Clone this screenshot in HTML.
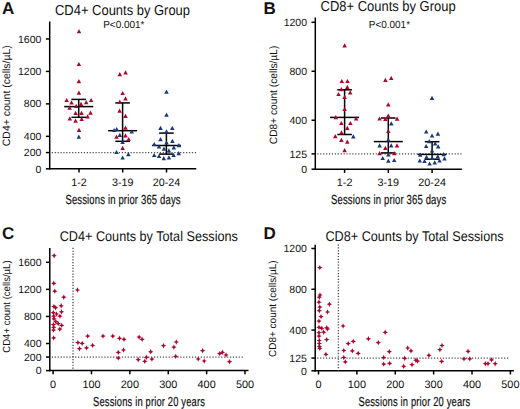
<!DOCTYPE html>
<html><head><meta charset="utf-8"><style>
html,body{margin:0;padding:0;background:#fff;}
svg{display:block;font-family:"Liberation Sans", sans-serif;text-rendering:geometricPrecision;}
</style></head><body>
<svg width="520" height="409" viewBox="0 0 520 409">
<g fill="#111">
<text x="2.0" y="13.6" font-size="17" font-weight="bold">A</text>
<text x="263.4" y="13.9" font-size="17" font-weight="bold">B</text>
<text x="2.0" y="238.7" font-size="17" font-weight="bold">C</text>
<text x="263.4" y="239.4" font-size="17" font-weight="bold">D</text>
<line x1="49.7" y1="21.5" x2="49.7" y2="169.5" stroke="#000" stroke-width="1.5"/>
<line x1="49.0" y1="168.8" x2="196.3" y2="168.8" stroke="#000" stroke-width="1.5"/>
<line x1="45.9" y1="168.8" x2="49.7" y2="168.8" stroke="#000" stroke-width="1.5"/>
<text x="41.4" y="172.5" font-size="10.5" text-anchor="end">0</text>
<line x1="45.9" y1="152.57" x2="49.7" y2="152.57" stroke="#000" stroke-width="1.5"/>
<text x="41.4" y="156.27" font-size="10.5" text-anchor="end">200</text>
<line x1="45.9" y1="136.34" x2="49.7" y2="136.34" stroke="#000" stroke-width="1.5"/>
<text x="41.4" y="140.04" font-size="10.5" text-anchor="end">400</text>
<line x1="45.9" y1="103.88" x2="49.7" y2="103.88" stroke="#000" stroke-width="1.5"/>
<text x="41.4" y="106.98" font-size="10.5" text-anchor="end">800</text>
<line x1="45.9" y1="71.42" x2="49.7" y2="71.42" stroke="#000" stroke-width="1.5"/>
<text x="41.4" y="75.12" font-size="10.5" text-anchor="end">1200</text>
<line x1="45.9" y1="38.96" x2="49.7" y2="38.96" stroke="#000" stroke-width="1.5"/>
<text x="41.4" y="42.66" font-size="10.5" text-anchor="end">1600</text>
<line x1="51.7" y1="152.57" x2="196.3" y2="152.57" stroke="#4a4a4a" stroke-width="1.35" stroke-dasharray="1.2 1.72"/>
<line x1="79.0" y1="168.8" x2="79.0" y2="172.5" stroke="#000" stroke-width="1.5"/>
<text x="79.0" y="186.2" font-size="10.8" text-anchor="middle">1-2</text>
<line x1="122.7" y1="168.8" x2="122.7" y2="172.5" stroke="#000" stroke-width="1.5"/>
<text x="122.7" y="186.2" font-size="10.8" text-anchor="middle">3-19</text>
<line x1="166.5" y1="168.8" x2="166.5" y2="172.5" stroke="#000" stroke-width="1.5"/>
<text x="166.5" y="186.2" font-size="10.8" text-anchor="middle">20-24</text>
<text transform="translate(65.4,204.1) scale(0.72,1)" font-size="13.2" textLength="160.00" lengthAdjust="spacing" stroke="#111" stroke-width="0.2">Sessions in prior 365 days</text>
<text transform="translate(9.9,146.2) rotate(-90)" font-size="10.6" textLength="101" lengthAdjust="spacingAndGlyphs">CD4+ count (cells/µL)</text>
<text x="55" y="14.5" font-size="14.4" textLength="135" lengthAdjust="spacingAndGlyphs">CD4+ Counts by Group</text>
<text transform="translate(103.2,27.8) scale(0.5)" font-size="20.6" textLength="82.4" lengthAdjust="spacingAndGlyphs">P&lt;0.001*</text>
<line x1="78.7" y1="99.4" x2="78.7" y2="117.3" stroke="#000" stroke-width="1.5"/>
<line x1="71.4" y1="99.4" x2="86.0" y2="99.4" stroke="#000" stroke-width="1.5"/>
<line x1="71.4" y1="117.3" x2="86.0" y2="117.3" stroke="#000" stroke-width="1.5"/>
<line x1="64.2" y1="106.6" x2="93.2" y2="106.6" stroke="#000" stroke-width="1.5"/>
<line x1="122.6" y1="102.9" x2="122.6" y2="141.3" stroke="#000" stroke-width="1.5"/>
<line x1="115.3" y1="102.9" x2="129.9" y2="102.9" stroke="#000" stroke-width="1.5"/>
<line x1="115.3" y1="141.3" x2="129.9" y2="141.3" stroke="#000" stroke-width="1.5"/>
<line x1="108.1" y1="130.7" x2="137.1" y2="130.7" stroke="#000" stroke-width="1.5"/>
<line x1="166.4" y1="133.1" x2="166.4" y2="154.1" stroke="#000" stroke-width="1.5"/>
<line x1="159.1" y1="133.1" x2="173.7" y2="133.1" stroke="#000" stroke-width="1.5"/>
<line x1="159.1" y1="154.1" x2="173.7" y2="154.1" stroke="#000" stroke-width="1.5"/>
<line x1="151.9" y1="145.5" x2="180.9" y2="145.5" stroke="#000" stroke-width="1.5"/>
<path d="M79.00 29.10L81.25 33.30L76.75 33.30Z" fill="#ae042c"/>
<path d="M78.90 61.90L81.15 66.10L76.65 66.10Z" fill="#ae042c"/>
<path d="M78.90 79.10L81.15 83.30L76.65 83.30Z" fill="#ae042c"/>
<path d="M78.90 90.60L81.15 94.80L76.65 94.80Z" fill="#ae042c"/>
<path d="M66.60 97.90L68.85 102.10L64.35 102.10Z" fill="#ae042c"/>
<path d="M71.50 100.30L73.75 104.50L69.25 104.50Z" fill="#ae042c"/>
<path d="M81.00 101.80L83.25 106.00L78.75 106.00Z" fill="#ae042c"/>
<path d="M86.20 100.00L88.45 104.20L83.95 104.20Z" fill="#ae042c"/>
<path d="M91.10 97.90L93.35 102.10L88.85 102.10Z" fill="#ae042c"/>
<path d="M76.20 103.80L78.45 108.00L73.95 108.00Z" fill="#ae042c"/>
<path d="M69.60 105.60L71.85 109.80L67.35 109.80Z" fill="#ae042c"/>
<path d="M75.60 110.70L77.85 114.90L73.35 114.90Z" fill="#ae042c"/>
<path d="M81.50 110.70L83.75 114.90L79.25 114.90Z" fill="#ae042c"/>
<path d="M90.50 110.50L92.75 114.70L88.25 114.70Z" fill="#ae042c"/>
<path d="M87.60 114.20L89.85 118.40L85.35 118.40Z" fill="#ae042c"/>
<path d="M69.80 116.20L72.05 120.40L67.55 120.40Z" fill="#ae042c"/>
<path d="M75.60 118.50L77.85 122.70L73.35 122.70Z" fill="#ae042c"/>
<path d="M81.70 116.90L83.95 121.10L79.45 121.10Z" fill="#ae042c"/>
<path d="M79.00 127.70L81.25 131.90L76.75 131.90Z" fill="#ae042c"/>
<path d="M78.80 134.50L81.05 138.70L76.55 138.70Z" fill="#183878"/>
<path d="M119.80 72.00L122.05 76.20L117.55 76.20Z" fill="#ae042c"/>
<path d="M125.60 70.20L127.85 74.40L123.35 74.40Z" fill="#ae042c"/>
<path d="M122.60 90.90L124.85 95.10L120.35 95.10Z" fill="#ae042c"/>
<path d="M125.50 96.30L127.75 100.50L123.25 100.50Z" fill="#ae042c"/>
<path d="M119.80 99.50L122.05 103.70L117.55 103.70Z" fill="#ae042c"/>
<path d="M119.60 108.50L121.85 112.70L117.35 112.70Z" fill="#ae042c"/>
<path d="M125.50 113.80L127.75 118.00L123.25 118.00Z" fill="#ae042c"/>
<path d="M125.50 125.50L127.75 129.70L123.25 129.70Z" fill="#ae042c"/>
<path d="M114.10 127.90L116.35 132.10L111.85 132.10Z" fill="#183878"/>
<path d="M116.70 126.90L118.95 131.10L114.45 131.10Z" fill="#183878"/>
<path d="M131.70 129.40L133.95 133.60L129.45 133.60Z" fill="#183878"/>
<path d="M119.80 132.70L122.05 136.90L117.55 136.90Z" fill="#183878"/>
<path d="M116.50 134.50L118.75 138.70L114.25 138.70Z" fill="#ae042c"/>
<path d="M125.50 133.20L127.75 137.40L123.25 137.40Z" fill="#ae042c"/>
<path d="M128.60 136.90L130.85 141.10L126.35 141.10Z" fill="#ae042c"/>
<path d="M122.60 139.90L124.85 144.10L120.35 144.10Z" fill="#183878"/>
<path d="M122.60 145.80L124.85 150.00L120.35 150.00Z" fill="#ae042c"/>
<path d="M116.50 149.90L118.75 154.10L114.25 154.10Z" fill="#183878"/>
<path d="M128.40 152.10L130.65 156.30L126.15 156.30Z" fill="#183878"/>
<path d="M122.60 155.40L124.85 159.60L120.35 159.60Z" fill="#183878"/>
<path d="M166.50 89.50L168.75 93.70L164.25 93.70Z" fill="#183878"/>
<path d="M166.50 112.60L168.75 116.80L164.25 116.80Z" fill="#183878"/>
<path d="M160.50 125.80L162.75 130.00L158.25 130.00Z" fill="#183878"/>
<path d="M172.30 125.80L174.55 130.00L170.05 130.00Z" fill="#183878"/>
<path d="M166.50 129.20L168.75 133.40L164.25 133.40Z" fill="#183878"/>
<path d="M160.50 137.10L162.75 141.30L158.25 141.30Z" fill="#183878"/>
<path d="M172.40 138.70L174.65 142.90L170.15 142.90Z" fill="#183878"/>
<path d="M166.50 140.40L168.75 144.60L164.25 144.60Z" fill="#183878"/>
<path d="M154.30 141.90L156.55 146.10L152.05 146.10Z" fill="#183878"/>
<path d="M159.00 144.20L161.25 148.40L156.75 148.40Z" fill="#183878"/>
<path d="M178.90 143.10L181.15 147.30L176.65 147.30Z" fill="#183878"/>
<path d="M173.80 145.30L176.05 149.50L171.55 149.50Z" fill="#183878"/>
<path d="M164.00 146.60L166.25 150.80L161.75 150.80Z" fill="#183878"/>
<path d="M168.90 148.20L171.15 152.40L166.65 152.40Z" fill="#183878"/>
<path d="M178.70 151.10L180.95 155.30L176.45 155.30Z" fill="#183878"/>
<path d="M154.20 152.90L156.45 157.10L151.95 157.10Z" fill="#183878"/>
<path d="M159.00 153.90L161.25 158.10L156.75 158.10Z" fill="#183878"/>
<path d="M173.60 152.90L175.85 157.10L171.35 157.10Z" fill="#183878"/>
<path d="M163.80 156.10L166.05 160.30L161.55 160.30Z" fill="#183878"/>
<path d="M168.90 155.30L171.15 159.50L166.65 159.50Z" fill="#183878"/>
<line x1="315.3" y1="17.5" x2="315.3" y2="169.9" stroke="#000" stroke-width="1.5"/>
<line x1="314.6" y1="169.2" x2="461.9" y2="169.2" stroke="#000" stroke-width="1.5"/>
<line x1="311.5" y1="169.2" x2="315.3" y2="169.2" stroke="#000" stroke-width="1.5"/>
<text x="307.0" y="172.9" font-size="10.5" text-anchor="end">0</text>
<line x1="311.5" y1="153.9" x2="315.3" y2="153.9" stroke="#000" stroke-width="1.5"/>
<text x="307.0" y="157.6" font-size="10.5" text-anchor="end">125</text>
<line x1="311.5" y1="120.23" x2="315.3" y2="120.23" stroke="#000" stroke-width="1.5"/>
<text x="307.0" y="123.93" font-size="10.5" text-anchor="end">400</text>
<line x1="311.5" y1="71.26" x2="315.3" y2="71.26" stroke="#000" stroke-width="1.5"/>
<text x="307.0" y="74.96" font-size="10.5" text-anchor="end">800</text>
<line x1="311.5" y1="22.3" x2="315.3" y2="22.3" stroke="#000" stroke-width="1.5"/>
<text x="307.0" y="26" font-size="10.5" text-anchor="end">1200</text>
<line x1="317.3" y1="153.9" x2="461.9" y2="153.9" stroke="#4a4a4a" stroke-width="1.35" stroke-dasharray="1.2 1.72"/>
<line x1="344.6" y1="169.2" x2="344.6" y2="172.9" stroke="#000" stroke-width="1.5"/>
<text x="344.6" y="186.2" font-size="10.8" text-anchor="middle">1-2</text>
<line x1="388.3" y1="169.2" x2="388.3" y2="172.9" stroke="#000" stroke-width="1.5"/>
<text x="388.3" y="186.2" font-size="10.8" text-anchor="middle">3-19</text>
<line x1="432.1" y1="169.2" x2="432.1" y2="172.9" stroke="#000" stroke-width="1.5"/>
<text x="432.1" y="186.2" font-size="10.8" text-anchor="middle">20-24</text>
<text transform="translate(331.0,204.1) scale(0.72,1)" font-size="13.2" textLength="160.00" lengthAdjust="spacing" stroke="#111" stroke-width="0.2">Sessions in prior 365 days</text>
<text transform="translate(276.6,144.2) rotate(-90)" font-size="10.6" textLength="98.5" lengthAdjust="spacingAndGlyphs">CD8+ count (cells/µL)</text>
<text x="320.6" y="10.5" font-size="14.4" textLength="135" lengthAdjust="spacingAndGlyphs">CD8+ Counts by Group</text>
<text transform="translate(368.8,27.8) scale(0.5)" font-size="20.6" textLength="82.4" lengthAdjust="spacingAndGlyphs">P&lt;0.001*</text>
<line x1="344.6" y1="89.8" x2="344.6" y2="134.5" stroke="#000" stroke-width="1.5"/>
<line x1="337.3" y1="89.8" x2="351.9" y2="89.8" stroke="#000" stroke-width="1.5"/>
<line x1="337.3" y1="134.5" x2="351.9" y2="134.5" stroke="#000" stroke-width="1.5"/>
<line x1="330.1" y1="117.4" x2="359.1" y2="117.4" stroke="#000" stroke-width="1.5"/>
<line x1="388.3" y1="118" x2="388.3" y2="152.9" stroke="#000" stroke-width="1.5"/>
<line x1="381.0" y1="118" x2="395.6" y2="118" stroke="#000" stroke-width="1.5"/>
<line x1="381.0" y1="152.9" x2="395.6" y2="152.9" stroke="#000" stroke-width="1.5"/>
<line x1="373.8" y1="141.6" x2="402.8" y2="141.6" stroke="#000" stroke-width="1.5"/>
<line x1="432.1" y1="141.7" x2="432.1" y2="159.2" stroke="#000" stroke-width="1.5"/>
<line x1="424.8" y1="141.7" x2="439.4" y2="141.7" stroke="#000" stroke-width="1.5"/>
<line x1="424.8" y1="159.2" x2="439.4" y2="159.2" stroke="#000" stroke-width="1.5"/>
<line x1="417.6" y1="154.4" x2="446.6" y2="154.4" stroke="#000" stroke-width="1.5"/>
<path d="M344.60 43.20L346.85 47.40L342.35 47.40Z" fill="#ae042c"/>
<path d="M341.80 78.90L344.05 83.10L339.55 83.10Z" fill="#ae042c"/>
<path d="M347.50 78.90L349.75 83.10L345.25 83.10Z" fill="#ae042c"/>
<path d="M347.30 84.70L349.55 88.90L345.05 88.90Z" fill="#ae042c"/>
<path d="M341.40 87.00L343.65 91.20L339.15 91.20Z" fill="#ae042c"/>
<path d="M338.50 91.90L340.75 96.10L336.25 96.10Z" fill="#ae042c"/>
<path d="M350.20 90.20L352.45 94.40L347.95 94.40Z" fill="#ae042c"/>
<path d="M344.60 94.80L346.85 99.00L342.35 99.00Z" fill="#ae042c"/>
<path d="M344.60 106.90L346.85 111.10L342.35 111.10Z" fill="#ae042c"/>
<path d="M335.80 115.00L338.05 119.20L333.55 119.20Z" fill="#ae042c"/>
<path d="M356.10 116.30L358.35 120.50L353.85 120.50Z" fill="#ae042c"/>
<path d="M341.40 120.90L343.65 125.10L339.15 125.10Z" fill="#ae042c"/>
<path d="M350.40 120.90L352.65 125.10L348.15 125.10Z" fill="#ae042c"/>
<path d="M347.30 125.70L349.55 129.90L345.05 129.90Z" fill="#ae042c"/>
<path d="M341.50 130.30L343.75 134.50L339.25 134.50Z" fill="#ae042c"/>
<path d="M335.30 134.00L337.55 138.20L333.05 138.20Z" fill="#ae042c"/>
<path d="M353.30 134.30L355.55 138.50L351.05 138.50Z" fill="#183878"/>
<path d="M341.40 137.80L343.65 142.00L339.15 142.00Z" fill="#ae042c"/>
<path d="M347.30 139.50L349.55 143.70L345.05 143.70Z" fill="#ae042c"/>
<path d="M344.60 148.10L346.85 152.30L342.35 152.30Z" fill="#ae042c"/>
<path d="M385.40 77.80L387.65 82.00L383.15 82.00Z" fill="#ae042c"/>
<path d="M391.20 75.80L393.45 80.00L388.95 80.00Z" fill="#ae042c"/>
<path d="M388.30 102.20L390.55 106.40L386.05 106.40Z" fill="#ae042c"/>
<path d="M388.30 113.40L390.55 117.60L386.05 117.60Z" fill="#ae042c"/>
<path d="M379.50 116.40L381.75 120.60L377.25 120.60Z" fill="#ae042c"/>
<path d="M385.40 116.90L387.65 121.10L383.15 121.10Z" fill="#ae042c"/>
<path d="M397.10 116.60L399.35 120.80L394.85 120.80Z" fill="#ae042c"/>
<path d="M391.30 121.30L393.55 125.50L389.05 125.50Z" fill="#183878"/>
<path d="M388.30 128.90L390.55 133.10L386.05 133.10Z" fill="#ae042c"/>
<path d="M388.30 137.60L390.55 141.80L386.05 141.80Z" fill="#183878"/>
<path d="M379.60 143.20L381.85 147.40L377.35 147.40Z" fill="#183878"/>
<path d="M391.20 143.20L393.45 147.40L388.95 147.40Z" fill="#183878"/>
<path d="M397.00 143.20L399.25 147.40L394.75 147.40Z" fill="#ae042c"/>
<path d="M385.40 145.80L387.65 150.00L383.15 150.00Z" fill="#ae042c"/>
<path d="M379.60 151.10L381.85 155.30L377.35 155.30Z" fill="#ae042c"/>
<path d="M394.20 151.10L396.45 155.30L391.95 155.30Z" fill="#ae042c"/>
<path d="M388.40 152.30L390.65 156.50L386.15 156.50Z" fill="#183878"/>
<path d="M382.70 155.90L384.95 160.10L380.45 160.10Z" fill="#183878"/>
<path d="M388.30 158.50L390.55 162.70L386.05 162.70Z" fill="#183878"/>
<path d="M394.20 157.90L396.45 162.10L391.95 162.10Z" fill="#183878"/>
<path d="M432.00 95.80L434.25 100.00L429.75 100.00Z" fill="#183878"/>
<path d="M426.20 129.40L428.45 133.60L423.95 133.60Z" fill="#183878"/>
<path d="M437.90 131.60L440.15 135.80L435.65 135.80Z" fill="#183878"/>
<path d="M432.00 133.40L434.25 137.60L429.75 137.60Z" fill="#183878"/>
<path d="M429.30 139.10L431.55 143.30L427.05 143.30Z" fill="#183878"/>
<path d="M435.20 141.30L437.45 145.50L432.95 145.50Z" fill="#183878"/>
<path d="M426.10 143.90L428.35 148.10L423.85 148.10Z" fill="#183878"/>
<path d="M438.20 144.20L440.45 148.40L435.95 148.40Z" fill="#183878"/>
<path d="M432.10 148.40L434.35 152.60L429.85 152.60Z" fill="#183878"/>
<path d="M420.20 152.60L422.45 156.80L417.95 156.80Z" fill="#183878"/>
<path d="M443.70 152.00L445.95 156.20L441.45 156.20Z" fill="#183878"/>
<path d="M426.50 154.70L428.75 158.90L424.25 158.90Z" fill="#183878"/>
<path d="M432.20 155.70L434.45 159.90L429.95 159.90Z" fill="#183878"/>
<path d="M437.80 154.30L440.05 158.50L435.55 158.50Z" fill="#183878"/>
<path d="M444.50 156.30L446.75 160.50L442.25 160.50Z" fill="#183878"/>
<path d="M419.80 158.40L422.05 162.60L417.55 162.60Z" fill="#183878"/>
<path d="M424.50 158.90L426.75 163.10L422.25 163.10Z" fill="#183878"/>
<path d="M439.50 158.40L441.75 162.60L437.25 162.60Z" fill="#183878"/>
<path d="M429.60 161.40L431.85 165.60L427.35 165.60Z" fill="#183878"/>
<path d="M434.70 160.20L436.95 164.40L432.45 164.40Z" fill="#183878"/>
<line x1="49.8" y1="248.1" x2="49.8" y2="371.3" stroke="#000" stroke-width="1.5"/>
<line x1="49.1" y1="370.6" x2="248.5" y2="370.6" stroke="#000" stroke-width="1.5"/>
<line x1="46.0" y1="370.6" x2="49.8" y2="370.6" stroke="#000" stroke-width="1.5"/>
<text x="41.5" y="374.3" font-size="10.5" text-anchor="end">0</text>
<line x1="46.0" y1="357.06" x2="49.8" y2="357.06" stroke="#000" stroke-width="1.5"/>
<text x="41.5" y="360.76" font-size="10.5" text-anchor="end">200</text>
<line x1="46.0" y1="343.52" x2="49.8" y2="343.52" stroke="#000" stroke-width="1.5"/>
<text x="41.5" y="347.22" font-size="10.5" text-anchor="end">400</text>
<line x1="46.0" y1="316.45" x2="49.8" y2="316.45" stroke="#000" stroke-width="1.5"/>
<text x="41.5" y="320.15" font-size="10.5" text-anchor="end">800</text>
<line x1="46.0" y1="289.37" x2="49.8" y2="289.37" stroke="#000" stroke-width="1.5"/>
<text x="41.5" y="293.07" font-size="10.5" text-anchor="end">1200</text>
<line x1="46.0" y1="262.3" x2="49.8" y2="262.3" stroke="#000" stroke-width="1.5"/>
<text x="41.5" y="266" font-size="10.5" text-anchor="end">1600</text>
<line x1="53.1" y1="370.6" x2="53.1" y2="374.3" stroke="#000" stroke-width="1.5"/>
<text x="53.1" y="388.1" font-size="10.9" text-anchor="middle">0</text>
<line x1="91.48" y1="370.6" x2="91.48" y2="374.3" stroke="#000" stroke-width="1.5"/>
<text x="91.48" y="388.1" font-size="10.9" text-anchor="middle">100</text>
<line x1="129.86" y1="370.6" x2="129.86" y2="374.3" stroke="#000" stroke-width="1.5"/>
<text x="129.86" y="388.1" font-size="10.9" text-anchor="middle">200</text>
<line x1="168.24" y1="370.6" x2="168.24" y2="374.3" stroke="#000" stroke-width="1.5"/>
<text x="168.24" y="388.1" font-size="10.9" text-anchor="middle">300</text>
<line x1="206.62" y1="370.6" x2="206.62" y2="374.3" stroke="#000" stroke-width="1.5"/>
<text x="206.62" y="388.1" font-size="10.9" text-anchor="middle">400</text>
<line x1="245" y1="370.6" x2="245" y2="374.3" stroke="#000" stroke-width="1.5"/>
<text x="245" y="388.1" font-size="10.9" text-anchor="middle">500</text>
<line x1="51.8" y1="357.06" x2="244.5" y2="357.06" stroke="#4a4a4a" stroke-width="1.35" stroke-dasharray="1.2 1.72"/>
<line x1="73.0" y1="247.8" x2="73.0" y2="370.6" stroke="#4a4a4a" stroke-width="1.35" stroke-dasharray="1.2 1.65"/>
<text transform="translate(93.1,405.6) scale(0.72,1)" font-size="13.0" textLength="155.28" lengthAdjust="spacing" stroke="#111" stroke-width="0.2">Sessions in prior 20 years</text>
<text transform="translate(9.5,352.7) rotate(-90)" font-size="10.2" textLength="92.3" lengthAdjust="spacingAndGlyphs">CD4+ count (cells/µL)</text>
<text x="59.7" y="240.7" font-size="14.1" textLength="178.2" lengthAdjust="spacingAndGlyphs">CD4+ Counts by Total Sessions</text>
<path d="M54.10 253.00L54.95 254.85L56.80 255.70L54.95 256.55L54.10 258.40L53.25 256.55L51.40 255.70L53.25 254.85Z" fill="#ae042c"/>
<path d="M53.80 280.60L54.65 282.45L56.50 283.30L54.65 284.15L53.80 286.00L52.95 284.15L51.10 283.30L52.95 282.45Z" fill="#ae042c"/>
<path d="M54.80 288.50L55.65 290.35L57.50 291.20L55.65 292.05L54.80 293.90L53.95 292.05L52.10 291.20L53.95 290.35Z" fill="#ae042c"/>
<path d="M77.50 287.30L78.35 289.15L80.20 290.00L78.35 290.85L77.50 292.70L76.65 290.85L74.80 290.00L76.65 289.15Z" fill="#ae042c"/>
<path d="M63.80 294.50L64.65 296.35L66.50 297.20L64.65 298.05L63.80 299.90L62.95 298.05L61.10 297.20L62.95 296.35Z" fill="#ae042c"/>
<path d="M53.90 303.80L54.75 305.65L56.60 306.50L54.75 307.35L53.90 309.20L53.05 307.35L51.20 306.50L53.05 305.65Z" fill="#ae042c"/>
<path d="M55.60 305.00L56.45 306.85L58.30 307.70L56.45 308.55L55.60 310.40L54.75 308.55L52.90 307.70L54.75 306.85Z" fill="#ae042c"/>
<path d="M61.20 303.10L62.05 304.95L63.90 305.80L62.05 306.65L61.20 308.50L60.35 306.65L58.50 305.80L60.35 304.95Z" fill="#ae042c"/>
<path d="M53.30 310.00L54.15 311.85L56.00 312.70L54.15 313.55L53.30 315.40L52.45 313.55L50.60 312.70L52.45 311.85Z" fill="#ae042c"/>
<path d="M56.50 311.30L57.35 313.15L59.20 314.00L57.35 314.85L56.50 316.70L55.65 314.85L53.80 314.00L55.65 313.15Z" fill="#ae042c"/>
<path d="M61.50 309.10L62.35 310.95L64.20 311.80L62.35 312.65L61.50 314.50L60.65 312.65L58.80 311.80L60.65 310.95Z" fill="#ae042c"/>
<path d="M53.70 313.50L54.55 315.35L56.40 316.20L54.55 317.05L53.70 318.90L52.85 317.05L51.00 316.20L52.85 315.35Z" fill="#ae042c"/>
<path d="M59.90 313.50L60.75 315.35L62.60 316.20L60.75 317.05L59.90 318.90L59.05 317.05L57.20 316.20L59.05 315.35Z" fill="#ae042c"/>
<path d="M54.00 316.10L54.85 317.95L56.70 318.80L54.85 319.65L54.00 321.50L53.15 319.65L51.30 318.80L53.15 317.95Z" fill="#ae042c"/>
<path d="M55.80 318.90L56.65 320.75L58.50 321.60L56.65 322.45L55.80 324.30L54.95 322.45L53.10 321.60L54.95 320.75Z" fill="#ae042c"/>
<path d="M58.20 320.90L59.05 322.75L60.90 323.60L59.05 324.45L58.20 326.30L57.35 324.45L55.50 323.60L57.35 322.75Z" fill="#ae042c"/>
<path d="M53.50 321.90L54.35 323.75L56.20 324.60L54.35 325.45L53.50 327.30L52.65 325.45L50.80 324.60L52.65 323.75Z" fill="#ae042c"/>
<path d="M61.70 322.70L62.55 324.55L64.40 325.40L62.55 326.25L61.70 328.10L60.85 326.25L59.00 325.40L60.85 324.55Z" fill="#ae042c"/>
<path d="M53.70 324.60L54.55 326.45L56.40 327.30L54.55 328.15L53.70 330.00L52.85 328.15L51.00 327.30L52.85 326.45Z" fill="#ae042c"/>
<path d="M59.80 326.40L60.65 328.25L62.50 329.10L60.65 329.95L59.80 331.80L58.95 329.95L57.10 329.10L58.95 328.25Z" fill="#ae042c"/>
<path d="M53.50 327.40L54.35 329.25L56.20 330.10L54.35 330.95L53.50 332.80L52.65 330.95L50.80 330.10L52.65 329.25Z" fill="#ae042c"/>
<path d="M53.70 335.20L54.55 337.05L56.40 337.90L54.55 338.75L53.70 340.60L52.85 338.75L51.00 337.90L52.85 337.05Z" fill="#ae042c"/>
<path d="M77.90 339.90L78.75 341.75L80.60 342.60L78.75 343.45L77.90 345.30L77.05 343.45L75.20 342.60L77.05 341.75Z" fill="#ae042c"/>
<path d="M82.20 340.70L83.05 342.55L84.90 343.40L83.05 344.25L82.20 346.10L81.35 344.25L79.50 343.40L81.35 342.55Z" fill="#ae042c"/>
<path d="M79.50 346.00L80.35 347.85L82.20 348.70L80.35 349.55L79.50 351.40L78.65 349.55L76.80 348.70L78.65 347.85Z" fill="#ae042c"/>
<path d="M87.70 333.40L88.55 335.25L90.40 336.10L88.55 336.95L87.70 338.80L86.85 336.95L85.00 336.10L86.85 335.25Z" fill="#ae042c"/>
<path d="M86.50 345.20L87.35 347.05L89.20 347.90L87.35 348.75L86.50 350.60L85.65 348.75L83.80 347.90L85.65 347.05Z" fill="#ae042c"/>
<path d="M92.60 342.70L93.45 344.55L95.30 345.40L93.45 346.25L92.60 348.10L91.75 346.25L89.90 345.40L91.75 344.55Z" fill="#ae042c"/>
<path d="M103.00 333.40L103.85 335.25L105.70 336.10L103.85 336.95L103.00 338.80L102.15 336.95L100.30 336.10L102.15 335.25Z" fill="#ae042c"/>
<path d="M112.80 333.40L113.65 335.25L115.50 336.10L113.65 336.95L112.80 338.80L111.95 336.95L110.10 336.10L111.95 335.25Z" fill="#ae042c"/>
<path d="M119.50 335.60L120.35 337.45L122.20 338.30L120.35 339.15L119.50 341.00L118.65 339.15L116.80 338.30L118.65 337.45Z" fill="#ae042c"/>
<path d="M124.00 336.60L124.85 338.45L126.70 339.30L124.85 340.15L124.00 342.00L123.15 340.15L121.30 339.30L123.15 338.45Z" fill="#ae042c"/>
<path d="M118.30 349.70L119.15 351.55L121.00 352.40L119.15 353.25L118.30 355.10L117.45 353.25L115.60 352.40L117.45 351.55Z" fill="#ae042c"/>
<path d="M123.50 347.30L124.35 349.15L126.20 350.00L124.35 350.85L123.50 352.70L122.65 350.85L120.80 350.00L122.65 349.15Z" fill="#ae042c"/>
<path d="M118.30 355.40L119.15 357.25L121.00 358.10L119.15 358.95L118.30 360.80L117.45 358.95L115.60 358.10L117.45 357.25Z" fill="#ae042c"/>
<path d="M139.10 334.40L139.95 336.25L141.80 337.10L139.95 337.95L139.10 339.80L138.25 337.95L136.40 337.10L138.25 336.25Z" fill="#ae042c"/>
<path d="M142.10 336.60L142.95 338.45L144.80 339.30L142.95 340.15L142.10 342.00L141.25 340.15L139.40 339.30L141.25 338.45Z" fill="#ae042c"/>
<path d="M150.70 349.10L151.55 350.95L153.40 351.80L151.55 352.65L150.70 354.50L149.85 352.65L148.00 351.80L149.85 350.95Z" fill="#ae042c"/>
<path d="M146.40 354.60L147.25 356.45L149.10 357.30L147.25 358.15L146.40 360.00L145.55 358.15L143.70 357.30L145.55 356.45Z" fill="#ae042c"/>
<path d="M138.20 357.00L139.05 358.85L140.90 359.70L139.05 360.55L138.20 362.40L137.35 360.55L135.50 359.70L137.35 358.85Z" fill="#ae042c"/>
<path d="M144.80 358.60L145.65 360.45L147.50 361.30L145.65 362.15L144.80 364.00L143.95 362.15L142.10 361.30L143.95 360.45Z" fill="#ae042c"/>
<path d="M151.90 356.40L152.75 358.25L154.60 359.10L152.75 359.95L151.90 361.80L151.05 359.95L149.20 359.10L151.05 358.25Z" fill="#ae042c"/>
<path d="M163.50 343.00L164.35 344.85L166.20 345.70L164.35 346.55L163.50 348.40L162.65 346.55L160.80 345.70L162.65 344.85Z" fill="#ae042c"/>
<path d="M176.30 339.30L177.15 341.15L179.00 342.00L177.15 342.85L176.30 344.70L175.45 342.85L173.60 342.00L175.45 341.15Z" fill="#ae042c"/>
<path d="M173.90 344.40L174.75 346.25L176.60 347.10L174.75 347.95L173.90 349.80L173.05 347.95L171.20 347.10L173.05 346.25Z" fill="#ae042c"/>
<path d="M175.70 353.70L176.55 355.55L178.40 356.40L176.55 357.25L175.70 359.10L174.85 357.25L173.00 356.40L174.85 355.55Z" fill="#ae042c"/>
<path d="M202.60 348.00L203.45 349.85L205.30 350.70L203.45 351.55L202.60 353.40L201.75 351.55L199.90 350.70L201.75 349.85Z" fill="#ae042c"/>
<path d="M198.20 356.30L199.05 358.15L200.90 359.00L199.05 359.85L198.20 361.70L197.35 359.85L195.50 359.00L197.35 358.15Z" fill="#ae042c"/>
<path d="M204.20 358.30L205.05 360.15L206.90 361.00L205.05 361.85L204.20 363.70L203.35 361.85L201.50 361.00L203.35 360.15Z" fill="#ae042c"/>
<path d="M219.70 350.90L220.55 352.75L222.40 353.60L220.55 354.45L219.70 356.30L218.85 354.45L217.00 353.60L218.85 352.75Z" fill="#ae042c"/>
<path d="M222.40 349.60L223.25 351.45L225.10 352.30L223.25 353.15L222.40 355.00L221.55 353.15L219.70 352.30L221.55 351.45Z" fill="#ae042c"/>
<path d="M226.00 352.30L226.85 354.15L228.70 355.00L226.85 355.85L226.00 357.70L225.15 355.85L223.30 355.00L225.15 354.15Z" fill="#ae042c"/>
<path d="M229.50 359.00L230.35 360.85L232.20 361.70L230.35 362.55L229.50 364.40L228.65 362.55L226.80 361.70L228.65 360.85Z" fill="#ae042c"/>
<line x1="315.2" y1="244.8" x2="315.2" y2="371.5" stroke="#000" stroke-width="1.5"/>
<line x1="314.5" y1="370.8" x2="513.9" y2="370.8" stroke="#000" stroke-width="1.5"/>
<line x1="311.4" y1="370.8" x2="315.2" y2="370.8" stroke="#000" stroke-width="1.5"/>
<text x="306.9" y="374.5" font-size="10.5" text-anchor="end">0</text>
<line x1="311.4" y1="358.06" x2="315.2" y2="358.06" stroke="#000" stroke-width="1.5"/>
<text x="306.9" y="361.76" font-size="10.5" text-anchor="end">125</text>
<line x1="311.4" y1="330.03" x2="315.2" y2="330.03" stroke="#000" stroke-width="1.5"/>
<text x="306.9" y="333.73" font-size="10.5" text-anchor="end">400</text>
<line x1="311.4" y1="289.26" x2="315.2" y2="289.26" stroke="#000" stroke-width="1.5"/>
<text x="306.9" y="292.96" font-size="10.5" text-anchor="end">800</text>
<line x1="311.4" y1="248.5" x2="315.2" y2="248.5" stroke="#000" stroke-width="1.5"/>
<text x="306.9" y="252.2" font-size="10.5" text-anchor="end">1200</text>
<line x1="318.5" y1="370.8" x2="318.5" y2="374.5" stroke="#000" stroke-width="1.5"/>
<text x="318.5" y="388.1" font-size="10.9" text-anchor="middle">0</text>
<line x1="356.88" y1="370.8" x2="356.88" y2="374.5" stroke="#000" stroke-width="1.5"/>
<text x="356.88" y="388.1" font-size="10.9" text-anchor="middle">100</text>
<line x1="395.26" y1="370.8" x2="395.26" y2="374.5" stroke="#000" stroke-width="1.5"/>
<text x="395.26" y="388.1" font-size="10.9" text-anchor="middle">200</text>
<line x1="433.64" y1="370.8" x2="433.64" y2="374.5" stroke="#000" stroke-width="1.5"/>
<text x="433.64" y="388.1" font-size="10.9" text-anchor="middle">300</text>
<line x1="472.02" y1="370.8" x2="472.02" y2="374.5" stroke="#000" stroke-width="1.5"/>
<text x="472.02" y="388.1" font-size="10.9" text-anchor="middle">400</text>
<line x1="510.4" y1="370.8" x2="510.4" y2="374.5" stroke="#000" stroke-width="1.5"/>
<text x="510.4" y="388.1" font-size="10.9" text-anchor="middle">500</text>
<line x1="317.2" y1="358.06" x2="509.9" y2="358.06" stroke="#4a4a4a" stroke-width="1.35" stroke-dasharray="1.2 1.72"/>
<line x1="338.4" y1="244.5" x2="338.4" y2="370.8" stroke="#4a4a4a" stroke-width="1.35" stroke-dasharray="1.2 1.65"/>
<text transform="translate(358.5,405.6) scale(0.72,1)" font-size="13.0" textLength="155.28" lengthAdjust="spacing" stroke="#111" stroke-width="0.2">Sessions in prior 20 years</text>
<text transform="translate(276.2,357.0) rotate(-90)" font-size="10.2" textLength="96.6" lengthAdjust="spacingAndGlyphs">CD8+ count (cells/µL)</text>
<text x="325.4" y="240.7" font-size="14.1" textLength="178.2" lengthAdjust="spacingAndGlyphs">CD8+ Counts by Total Sessions</text>
<path d="M319.80 264.90L320.65 266.75L322.50 267.60L320.65 268.45L319.80 270.30L318.95 268.45L317.10 267.60L318.95 266.75Z" fill="#ae042c"/>
<path d="M320.00 292.30L320.85 294.15L322.70 295.00L320.85 295.85L320.00 297.70L319.15 295.85L317.30 295.00L319.15 294.15Z" fill="#ae042c"/>
<path d="M319.30 294.50L320.15 296.35L322.00 297.20L320.15 298.05L319.30 299.90L318.45 298.05L316.60 297.20L318.45 296.35Z" fill="#ae042c"/>
<path d="M319.00 299.50L319.85 301.35L321.70 302.20L319.85 303.05L319.00 304.90L318.15 303.05L316.30 302.20L318.15 301.35Z" fill="#ae042c"/>
<path d="M329.40 301.50L330.25 303.35L332.10 304.20L330.25 305.05L329.40 306.90L328.55 305.05L326.70 304.20L328.55 303.35Z" fill="#ae042c"/>
<path d="M319.80 304.40L320.65 306.25L322.50 307.10L320.65 307.95L319.80 309.80L318.95 307.95L317.10 307.10L318.95 306.25Z" fill="#ae042c"/>
<path d="M319.30 308.00L320.15 309.85L322.00 310.70L320.15 311.55L319.30 313.40L318.45 311.55L316.60 310.70L318.45 309.85Z" fill="#ae042c"/>
<path d="M327.50 309.30L328.35 311.15L330.20 312.00L328.35 312.85L327.50 314.70L326.65 312.85L324.80 312.00L326.65 311.15Z" fill="#ae042c"/>
<path d="M321.00 313.90L321.85 315.75L323.70 316.60L321.85 317.45L321.00 319.30L320.15 317.45L318.30 316.60L320.15 315.75Z" fill="#ae042c"/>
<path d="M319.00 318.40L319.85 320.25L321.70 321.10L319.85 321.95L319.00 323.80L318.15 321.95L316.30 321.10L318.15 320.25Z" fill="#ae042c"/>
<path d="M319.00 324.60L319.85 326.45L321.70 327.30L319.85 328.15L319.00 330.00L318.15 328.15L316.30 327.30L318.15 326.45Z" fill="#ae042c"/>
<path d="M321.80 325.60L322.65 327.45L324.50 328.30L322.65 329.15L321.80 331.00L320.95 329.15L319.10 328.30L320.95 327.45Z" fill="#ae042c"/>
<path d="M326.70 325.10L327.55 326.95L329.40 327.80L327.55 328.65L326.70 330.50L325.85 328.65L324.00 327.80L325.85 326.95Z" fill="#ae042c"/>
<path d="M327.60 326.30L328.45 328.15L330.30 329.00L328.45 329.85L327.60 331.70L326.75 329.85L324.90 329.00L326.75 328.15Z" fill="#ae042c"/>
<path d="M323.70 329.50L324.55 331.35L326.40 332.20L324.55 333.05L323.70 334.90L322.85 333.05L321.00 332.20L322.85 331.35Z" fill="#ae042c"/>
<path d="M319.00 330.00L319.85 331.85L321.70 332.70L319.85 333.55L319.00 335.40L318.15 333.55L316.30 332.70L318.15 331.85Z" fill="#ae042c"/>
<path d="M319.00 333.40L319.85 335.25L321.70 336.10L319.85 336.95L319.00 338.80L318.15 336.95L316.30 336.10L318.15 335.25Z" fill="#ae042c"/>
<path d="M326.70 336.90L327.55 338.75L329.40 339.60L327.55 340.45L326.70 342.30L325.85 340.45L324.00 339.60L325.85 338.75Z" fill="#ae042c"/>
<path d="M319.30 337.80L320.15 339.65L322.00 340.50L320.15 341.35L319.30 343.20L318.45 341.35L316.60 340.50L318.45 339.65Z" fill="#ae042c"/>
<path d="M319.30 340.80L320.15 342.65L322.00 343.50L320.15 344.35L319.30 346.20L318.45 344.35L316.60 343.50L318.45 342.65Z" fill="#ae042c"/>
<path d="M319.30 343.70L320.15 345.55L322.00 346.40L320.15 347.25L319.30 349.10L318.45 347.25L316.60 346.40L318.45 345.55Z" fill="#ae042c"/>
<path d="M319.80 345.70L320.65 347.55L322.50 348.40L320.65 349.25L319.80 351.10L318.95 349.25L317.10 348.40L318.95 347.55Z" fill="#ae042c"/>
<path d="M325.90 351.70L326.75 353.55L328.60 354.40L326.75 355.25L325.90 357.10L325.05 355.25L323.20 354.40L325.05 353.55Z" fill="#ae042c"/>
<path d="M343.10 323.30L343.95 325.15L345.80 326.00L343.95 326.85L343.10 328.70L342.25 326.85L340.40 326.00L342.25 325.15Z" fill="#ae042c"/>
<path d="M348.20 340.90L349.05 342.75L350.90 343.60L349.05 344.45L348.20 346.30L347.35 344.45L345.50 343.60L347.35 342.75Z" fill="#ae042c"/>
<path d="M353.30 338.70L354.15 340.55L356.00 341.40L354.15 342.25L353.30 344.10L352.45 342.25L350.60 341.40L352.45 340.55Z" fill="#ae042c"/>
<path d="M343.80 347.80L344.65 349.65L346.50 350.50L344.65 351.35L343.80 353.20L342.95 351.35L341.10 350.50L342.95 349.65Z" fill="#ae042c"/>
<path d="M352.30 348.20L353.15 350.05L355.00 350.90L353.15 351.75L352.30 353.60L351.45 351.75L349.60 350.90L351.45 350.05Z" fill="#ae042c"/>
<path d="M358.20 350.70L359.05 352.55L360.90 353.40L359.05 354.25L358.20 356.10L357.35 354.25L355.50 353.40L357.35 352.55Z" fill="#ae042c"/>
<path d="M343.80 354.80L344.65 356.65L346.50 357.50L344.65 358.35L343.80 360.20L342.95 358.35L341.10 357.50L342.95 356.65Z" fill="#ae042c"/>
<path d="M345.30 359.20L346.15 361.05L348.00 361.90L346.15 362.75L345.30 364.60L344.45 362.75L342.60 361.90L344.45 361.05Z" fill="#ae042c"/>
<path d="M368.40 336.10L369.25 337.95L371.10 338.80L369.25 339.65L368.40 341.50L367.55 339.65L365.70 338.80L367.55 337.95Z" fill="#ae042c"/>
<path d="M378.30 339.90L379.15 341.75L381.00 342.60L379.15 343.45L378.30 345.30L377.45 343.45L375.60 342.60L377.45 341.75Z" fill="#ae042c"/>
<path d="M385.20 329.60L386.05 331.45L387.90 332.30L386.05 333.15L385.20 335.00L384.35 333.15L382.50 332.30L384.35 331.45Z" fill="#ae042c"/>
<path d="M389.30 349.00L390.15 350.85L392.00 351.70L390.15 352.55L389.30 354.40L388.45 352.55L386.60 351.70L388.45 350.85Z" fill="#ae042c"/>
<path d="M383.70 354.80L384.55 356.65L386.40 357.50L384.55 358.35L383.70 360.20L382.85 358.35L381.00 357.50L382.85 356.65Z" fill="#ae042c"/>
<path d="M383.70 361.40L384.55 363.25L386.40 364.10L384.55 364.95L383.70 366.80L382.85 364.95L381.00 364.10L382.85 363.25Z" fill="#ae042c"/>
<path d="M389.60 360.70L390.45 362.55L392.30 363.40L390.45 364.25L389.60 366.10L388.75 364.25L386.90 363.40L388.75 362.55Z" fill="#ae042c"/>
<path d="M407.70 345.30L408.55 347.15L410.40 348.00L408.55 348.85L407.70 350.70L406.85 348.85L405.00 348.00L406.85 347.15Z" fill="#ae042c"/>
<path d="M411.00 348.20L411.85 350.05L413.70 350.90L411.85 351.75L411.00 353.60L410.15 351.75L408.30 350.90L410.15 350.05Z" fill="#ae042c"/>
<path d="M404.70 355.60L405.55 357.45L407.40 358.30L405.55 359.15L404.70 361.00L403.85 359.15L402.00 358.30L403.85 357.45Z" fill="#ae042c"/>
<path d="M403.70 363.60L404.55 365.45L406.40 366.30L404.55 367.15L403.70 369.00L402.85 367.15L401.00 366.30L402.85 365.45Z" fill="#ae042c"/>
<path d="M412.00 362.00L412.85 363.85L414.70 364.70L412.85 365.55L412.00 367.40L411.15 365.55L409.30 364.70L411.15 363.85Z" fill="#ae042c"/>
<path d="M415.90 357.50L416.75 359.35L418.60 360.20L416.75 361.05L415.90 362.90L415.05 361.05L413.20 360.20L415.05 359.35Z" fill="#ae042c"/>
<path d="M417.50 358.40L418.35 360.25L420.20 361.10L418.35 361.95L417.50 363.80L416.65 361.95L414.80 361.10L416.65 360.25Z" fill="#ae042c"/>
<path d="M428.90 352.60L429.75 354.45L431.60 355.30L429.75 356.15L428.90 358.00L428.05 356.15L426.20 355.30L428.05 354.45Z" fill="#ae042c"/>
<path d="M442.00 342.80L442.85 344.65L444.70 345.50L442.85 346.35L442.00 348.20L441.15 346.35L439.30 345.50L441.15 344.65Z" fill="#ae042c"/>
<path d="M439.90 347.00L440.75 348.85L442.60 349.70L440.75 350.55L439.90 352.40L439.05 350.55L437.20 349.70L439.05 348.85Z" fill="#ae042c"/>
<path d="M441.60 358.70L442.45 360.55L444.30 361.40L442.45 362.25L441.60 364.10L440.75 362.25L438.90 361.40L440.75 360.55Z" fill="#ae042c"/>
<path d="M468.10 348.60L468.95 350.45L470.80 351.30L468.95 352.15L468.10 354.00L467.25 352.15L465.40 351.30L467.25 350.45Z" fill="#ae042c"/>
<path d="M464.00 356.20L464.85 358.05L466.70 358.90L464.85 359.75L464.00 361.60L463.15 359.75L461.30 358.90L463.15 358.05Z" fill="#ae042c"/>
<path d="M469.80 356.20L470.65 358.05L472.50 358.90L470.65 359.75L469.80 361.60L468.95 359.75L467.10 358.90L468.95 358.05Z" fill="#ae042c"/>
<path d="M485.40 361.00L486.25 362.85L488.10 363.70L486.25 364.55L485.40 366.40L484.55 364.55L482.70 363.70L484.55 362.85Z" fill="#ae042c"/>
<path d="M488.00 361.00L488.85 362.85L490.70 363.70L488.85 364.55L488.00 366.40L487.15 364.55L485.30 363.70L487.15 362.85Z" fill="#ae042c"/>
<path d="M491.50 357.20L492.35 359.05L494.20 359.90L492.35 360.75L491.50 362.60L490.65 360.75L488.80 359.90L490.65 359.05Z" fill="#ae042c"/>
<path d="M495.20 361.00L496.05 362.85L497.90 363.70L496.05 364.55L495.20 366.40L494.35 364.55L492.50 363.70L494.35 362.85Z" fill="#ae042c"/>
</g>
</svg>
</body></html>
